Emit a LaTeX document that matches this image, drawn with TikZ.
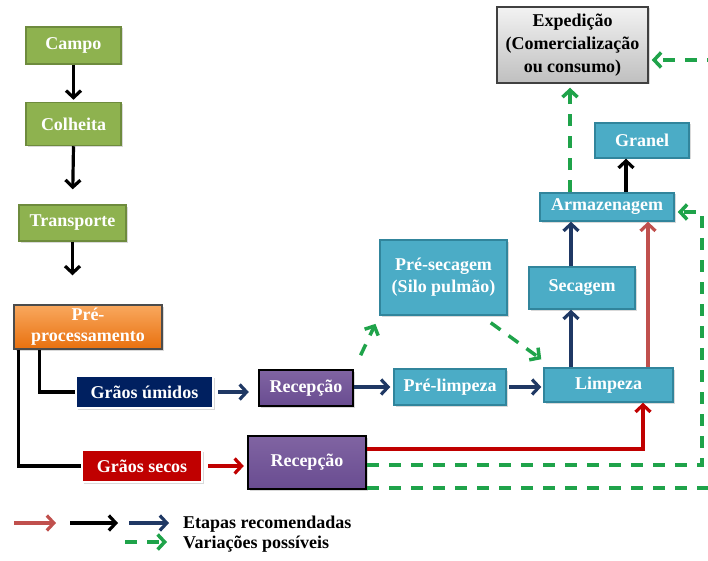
\documentclass[tikz,border=0pt]{standalone}
\usepackage{fontspec}
\setmainfont{Liberation Serif}
\usetikzlibrary{arrows.meta,calc,shadows}
\definecolor{gfill}{HTML}{8EB24F}
\definecolor{gdraw}{HTML}{6E8B3D}
\definecolor{tfill}{HTML}{4BACC6}
\definecolor{tdraw}{HTML}{31859C}
\definecolor{navy}{HTML}{002060}
\definecolor{dred}{HTML}{C00000}
\definecolor{lred}{HTML}{C0504D}
\definecolor{arrblue}{HTML}{1F3864}
\definecolor{vgreen}{HTML}{1FA34A}
\definecolor{purp}{HTML}{8064A2}
\definecolor{purpd}{HTML}{694C91}
\definecolor{orl}{HTML}{F9A85E}
\definecolor{ord}{HTML}{E8700E}
\begin{document}
\begin{tikzpicture}[x=1pt,y=-1pt,
  every node/.style={font=\fontsize{18}{22}\selectfont\bfseries, align=center, inner sep=0pt},
  shad/.style={drop shadow={shadow xshift=1.5pt,shadow yshift=-1.5pt,opacity=0.3}},
  gbox/.style={shad, fill=gfill, draw=gdraw, line width=1.5pt, text=white},
  tbox/.style={shad, fill=tfill, draw=tdraw, line width=1.5pt, text=white},
  pbox/.style={shad, top color=purp, bottom color=purpd, draw=black, line width=2.4pt, text=white},
  wbox/.style={shad, draw=white, line width=2pt, text=white},
  tip/.style={-{Straight Barb[length=7pt,width=15pt]}},
  karr/.style={tip, draw=black, line width=3.2pt},
  barr/.style={tip, draw=arrblue, line width=3.2pt},
  rarr/.style={tip, draw=dred, line width=3.2pt},
  larr/.style={tip, draw=lred, line width=3.2pt},
  varr/.style={tip, draw=vgreen, line width=3.5pt, dash pattern=on 12pt off 10pt},
  kline/.style={draw=black, line width=3.2pt},
]
\useasboundingbox (0,0) rectangle (708,561);

\node[gbox, minimum width=95pt, minimum height=37pt] (campo) at (73.5,45.5) {Campo};
\node[gbox, minimum width=95pt, minimum height=43pt] (colh) at (73.5,124) {Colheita};
\node[gbox, minimum width=107pt, minimum height=36pt] (transp) at (72.5,223) {Transporte};
\node[shad, top color=orl, bottom color=ord, draw=black!70, line width=1.5pt, text=white,
      minimum width=148pt, minimum height=44pt, font=\fontsize{18}{21}\selectfont\bfseries] (prep) at (88,327) {Pré-\\processamento};
\node[wbox, fill=navy, minimum width=137pt, minimum height=32pt] (gu) at (144.5,392) {Grãos úmidos};
\node[wbox, fill=dred, minimum width=120pt, minimum height=32pt] (gs) at (142,466) {Grãos secos};
\node[pbox, minimum width=94pt, minimum height=36pt] (rec1) at (306,388) {Recepção};
\node[pbox, minimum width=118pt, minimum height=53pt] (rec2) at (307,462.5) {Recepção};
\node[tbox, minimum width=127pt, minimum height=75pt] (presec) at (443.5,277.5) {Pré-secagem\\(Silo pulmão)};
\node[tbox, minimum width=106pt, minimum height=42pt] (sec) at (582,288) {Secagem};
\node[tbox, minimum width=112pt, minimum height=36pt] (prel) at (450,387) {Pré-limpeza};
\node[tbox, minimum width=129pt, minimum height=34pt] (limp) at (608.5,385) {Limpeza};
\node[tbox, minimum width=134pt, minimum height=28pt] (arm) at (607,207) {Armazenagem};
\node[tbox, minimum width=94pt, minimum height=35pt] (granel) at (642,140.5) {Granel};
\node[shad, top color=white!95!black, bottom color=black!25, draw=black!75, line width=1.5pt,
      minimum width=151pt, minimum height=76pt, font=\fontsize{18}{23}\selectfont\bfseries] (exp) at (572.5,45) {Expedição\\(Comercialização\\ou consumo)};

% left column
\draw[karr, shorten >=2pt] (campo.south) -- (colh.north);
\draw[karr, shorten >=15pt] (colh.south) -- (transp.north);
\draw[karr, shorten >=29pt] (transp.south) -- (transp.south |- prep.north);
\draw[kline] ($(prep.south west)+(26,0)$) |- (gu.west);
\draw[kline] ($(prep.south west)+(5,0)$) |- (gs.west);

% blue path
\draw[barr, shorten <=4pt, shorten >=9pt] (gu.east) -- (gu.east -| rec1.west);
\draw[barr, shorten >=3pt] (rec1.east |- prel.west) -- (prel.west);
\draw[barr, shorten <=2pt, shorten >=2pt] (prel.east) -- (prel.east -| limp.west);
\coordinate (cb) at (571,0);
\coordinate (cr) at (648,0);
\coordinate (crl) at (643,0);
\coordinate (ck) at (626,0);
\coordinate (cg) at (570,0);
\draw[barr] (cb |- limp.north) -- (cb |- sec.south);
\draw[barr] (cb |- sec.north) -- (cb |- arm.south);
\draw[larr] (cr |- limp.north) -- (cr |- arm.south);
\draw[karr] (ck |- arm.north) -- (ck |- granel.south);
\draw[varr, shorten >=4pt] (cg |- arm.north) -- (cg |- exp.south);

% red path
\draw[rarr, shorten <=5pt, shorten >=3pt] (gs.east) -- (gs.east -| rec2.west);
\coordinate (ry) at (0,449);
\draw[rarr] (rec2.east |- ry) -| (crl |- limp.south);

% green variations
\draw[varr, shorten <=15pt, shorten >=9pt] (rec1.north east) -- (presec.south west);
\draw[varr] ($(presec.south east)+(-17,7)$) -- ($(limp.north west)+(-2,-8)$);
\coordinate (g1) at (0,465);
\coordinate (ga) at (702,212);
\draw[varr, shorten >=3pt] (rec2.east |- g1) -| (ga) -- (ga -| arm.east);
\coordinate (g2) at (0,488);
\coordinate (gb) at (714,60);
\draw[varr, shorten >=3pt] (rec2.east |- g2) -| (gb) -- (gb -| exp.east);

% legend
\coordinate (l1a) at (14,523); \coordinate (l1b) at (56,523);
\coordinate (l2a) at (70,523); \coordinate (l2b) at (118,523);
\coordinate (l3a) at (129,523); \coordinate (l3b) at (169,523);
\coordinate (l4a) at (125,542); \coordinate (l4b) at (167,542);
\draw[larr] (l1a) -- (l1b);
\draw[karr] (l2a) -- (l2b);
\draw[barr] (l3a) -- (l3b);
\draw[varr] (l4a) -- (l4b);
\node[anchor=west] (t1) at (183,524) {Etapas recomendadas};
\node[anchor=west] (t2) at (183,544) {Variações possíveis};
\end{tikzpicture}
\end{document}
